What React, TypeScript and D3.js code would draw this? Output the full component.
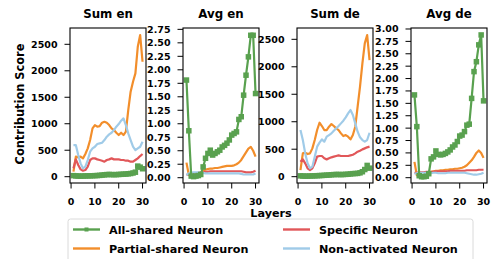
import React from "react";
import * as d3 from "d3";

const layers = d3.range(1, 31);

// Sum en
const sumEnAll = [20, 15, 12, 10, 12, 14, 15, 16, 18, 20, 22, 25, 30, 35, 40, 42, 40, 38, 40, 42, 45, 48, 50, 55, 60, 70, 85, 200, 180, 150];
const sumEnPartial = [95, 378, 365, 378, 346, 428, 535, 692, 913, 975, 944, 956, 1020, 1038, 1020, 975, 913, 880, 830, 787, 830, 787, 850, 1258, 1605, 1794, 1951, 2454, 2675, 2171];
const sumEnSpecific = [157, 327, 220, 138, 113, 126, 189, 315, 346, 346, 327, 315, 302, 283, 315, 327, 346, 327, 327, 327, 315, 315, 302, 302, 283, 283, 315, 346, 390, 428];
const sumEnNon = [598, 598, 409, 252, 157, 189, 315, 472, 535, 566, 617, 629, 642, 692, 755, 799, 830, 881, 944, 994, 1057, 1101, 975, 818, 692, 566, 503, 535, 566, 661];

// Avg en
const avgEnAll = [1.81, 0.87, 0.03, 0.02, 0.03, 0.04, 0.06, 0.2, 0.36, 0.45, 0.51, 0.42, 0.45, 0.48, 0.51, 0.57, 0.6, 0.64, 0.7, 0.79, 0.82, 0.85, 1.08, 1.13, 1.53, 1.9, 2.24, 2.64, 2.64, 1.56];
const avgEnPartial = [0.28, 0.05, 0.03, 0.03, 0.04, 0.06, 0.1, 0.13, 0.15, 0.16, 0.17, 0.17, 0.18, 0.18, 0.19, 0.2, 0.21, 0.22, 0.22, 0.22, 0.23, 0.25, 0.28, 0.33, 0.4, 0.47, 0.54, 0.57, 0.5, 0.39];
const avgEnSpecific = [0.05, 0.07, 0.08, 0.08, 0.08, 0.09, 0.1, 0.1, 0.11, 0.11, 0.12, 0.12, 0.12, 0.12, 0.12, 0.12, 0.12, 0.12, 0.12, 0.12, 0.12, 0.12, 0.12, 0.12, 0.11, 0.1, 0.1, 0.1, 0.11, 0.13];
const avgEnNon = [0.05, 0.08, 0.09, 0.1, 0.1, 0.1, 0.09, 0.09, 0.08, 0.08, 0.08, 0.08, 0.08, 0.08, 0.08, 0.08, 0.08, 0.08, 0.08, 0.08, 0.08, 0.08, 0.08, 0.07, 0.06, 0.06, 0.06, 0.06, 0.06, 0.08];

// Sum de
const sumDeAll = [15, 12, 10, 10, 12, 14, 15, 18, 20, 22, 25, 28, 30, 35, 38, 40, 40, 38, 40, 42, 45, 50, 55, 58, 60, 70, 90, 130, 205, 155];
const sumDePartial = [121, 424, 437, 412, 424, 515, 667, 849, 982, 922, 849, 849, 910, 958, 922, 879, 849, 788, 740, 758, 728, 679, 758, 910, 1273, 1637, 2062, 2426, 2577, 2122];
const sumDeSpecific = [273, 315, 243, 152, 121, 152, 243, 364, 376, 376, 334, 315, 334, 352, 364, 376, 388, 376, 376, 376, 376, 388, 400, 424, 455, 473, 497, 515, 534, 546];
const sumDeNon = [849, 667, 424, 243, 152, 182, 364, 546, 619, 679, 637, 728, 758, 788, 837, 879, 922, 970, 1019, 1079, 1152, 1213, 1122, 970, 819, 716, 667, 637, 667, 800];

// Avg de
const avgDeAll = [1.67, 1.03, 0.04, 0.02, 0.02, 0.03, 0.08, 0.38, 0.42, 0.54, 0.47, 0.46, 0.47, 0.49, 0.52, 0.56, 0.62, 0.66, 0.73, 0.84, 0.86, 0.93, 1.06, 1.08, 1.6, 2.14, 2.34, 2.68, 2.88, 1.55];
const avgDePartial = [0.32, 0.05, 0.03, 0.03, 0.04, 0.06, 0.1, 0.12, 0.13, 0.14, 0.14, 0.15, 0.15, 0.16, 0.16, 0.17, 0.17, 0.18, 0.18, 0.19, 0.2, 0.22, 0.25, 0.3, 0.35, 0.42, 0.5, 0.55, 0.5, 0.4];
const avgDeSpecific = [0.1, 0.1, 0.11, 0.11, 0.11, 0.12, 0.12, 0.12, 0.12, 0.13, 0.13, 0.13, 0.13, 0.13, 0.13, 0.14, 0.14, 0.14, 0.14, 0.14, 0.14, 0.14, 0.15, 0.15, 0.15, 0.15, 0.15, 0.16, 0.16, 0.16];
const avgDeNon = [0.08, 0.09, 0.1, 0.1, 0.1, 0.1, 0.09, 0.09, 0.1, 0.1, 0.09, 0.09, 0.09, 0.09, 0.1, 0.1, 0.1, 0.1, 0.1, 0.1, 0.1, 0.1, 0.09, 0.08, 0.07, 0.06, 0.06, 0.07, 0.08, 0.1];

const xTicks = [0, 10, 20, 30];
const sumTicks = [0, 500, 1000, 1500, 2000, 2500];
const avgEnTicks = d3.range(0, 2.76, 0.25);
const avgDeTicks = d3.range(0, 3.01, 0.25);

const seriesNames = ["All-shared Neuron", "Partial-shared Neuron", "Specific Neuron", "Non-activated Neuron"];
const colors = ["#59a14f", "#f28e2b", "#e15759", "#a0cbe8"];

const FONT = "DejaVu Sans, sans-serif";
const TOP = 28;
const BOTTOM = 183;
const W = 76;
const TICK = 5.5;

const panels = [
  { title: "Sum en", left: 70, series: [sumEnAll, sumEnPartial, sumEnSpecific, sumEnNon], domain: [-119, 2808], ticks: sumTicks, fmt: d3.format("d") },
  { title: "Avg en", left: 183, series: [avgEnAll, avgEnPartial, avgEnSpecific, avgEnNon], domain: [-0.098, 2.775], ticks: avgEnTicks, fmt: d3.format(".2f") },
  { title: "Sum de", left: 297, series: [sumDeAll, sumDePartial, sumDeSpecific, sumDeNon], domain: [-115, 2706], ticks: sumTicks, fmt: d3.format("d") },
  { title: "Avg de", left: 411, series: [avgDeAll, avgDePartial, avgDeSpecific, avgDeNon], domain: [-0.107, 3.02], ticks: avgDeTicks, fmt: d3.format(".2f") },
];

const Panel: React.FC<{ p: (typeof panels)[number] }> = ({ p }) => {
  const x = d3.scaleLinear().domain([-0.45, 31.45]).range([p.left, p.left + W]);
  const y = d3.scaleLinear().domain(p.domain).range([BOTTOM, TOP]);
  const line = d3
    .line<number>()
    .x((_, i) => x(layers[i]))
    .y((d) => y(d));
  const order = [1, 2, 3, 0];
  return (
    <g>
      <text x={p.left + W / 2} y={17.5} textAnchor="middle" fontSize={11.8} fontWeight="bold" fontFamily={FONT}>
        {p.title}
      </text>
      {order.map((k) => (
        <g key={k}>
          <path d={line(p.series[k]) ?? ""} fill="none" stroke={colors[k]} strokeWidth={2.2} strokeLinejoin="round" />
          {k === 0 &&
            p.series[k].map((v, i) => (
              <rect key={i} x={x(layers[i]) - 2.75} y={y(v) - 2.75} width={5.5} height={5.5} fill={colors[k]} />
            ))}
        </g>
      ))}
      <rect x={p.left} y={TOP} width={W} height={BOTTOM - TOP} fill="none" stroke="#000" strokeWidth={1.1} />
      {xTicks.map((t) => (
        <g key={t}>
          <line x1={x(t)} x2={x(t)} y1={BOTTOM} y2={BOTTOM + TICK} stroke="#000" strokeWidth={1} />
          <text x={x(t)} y={204.5} textAnchor="middle" fontSize={9.5} fontWeight="bold" fontFamily={FONT}>
            {t}
          </text>
        </g>
      ))}
      {p.ticks.map((t) => (
        <g key={t}>
          <line x1={p.left - TICK} x2={p.left} y1={y(t)} y2={y(t)} stroke="#000" strokeWidth={1} />
          <text x={p.left - 12.5} y={y(t) + 3.4} textAnchor="end" fontSize={9.5} fontWeight="bold" fontFamily={FONT}>
            {p.fmt(t)}
          </text>
        </g>
      ))}
    </g>
  );
};

const legendItems = [
  { k: 0, x: 73, y: 229.5 },
  { k: 1, x: 73, y: 248.5 },
  { k: 2, x: 283, y: 229.5 },
  { k: 3, x: 283, y: 248.5 },
];

export default function App() {
  return (
    <svg width={493} height={259} style={{ position: "absolute", left: 0, top: 0 }}>
      <rect width={493} height={259} fill="#fff" />
      <text transform="translate(24,104) rotate(-90)" textAnchor="middle" fontSize={11.4} fontWeight="bold" fontFamily={FONT}>
        Contribution Score
      </text>
      {panels.map((p) => (
        <Panel key={p.title} p={p} />
      ))}
      <text x={271} y={216.5} textAnchor="middle" fontSize={11.2} fontWeight="bold" fontFamily={FONT}>
        Layers
      </text>
      <rect x={68} y={219} width={405} height={50} rx={2.5} fill="#fff" fillOpacity={0.8} stroke="#d0d0d0" strokeWidth={0.8} />
      {legendItems.map(({ k, x, y }) => (
        <g key={k}>
          <line x1={x} x2={x + 27} y1={y} y2={y} stroke={colors[k]} strokeWidth={2.4} />
          {k === 0 && <rect x={x + 13.5 - 2} y={y - 2} width={4} height={4} fill={colors[k]} />}
          <text x={x + 36} y={y + 4} fontSize={11.2} fontWeight="bold" fontFamily={FONT}>
            {seriesNames[k]}
          </text>
        </g>
      ))}
    </svg>
  );
}
